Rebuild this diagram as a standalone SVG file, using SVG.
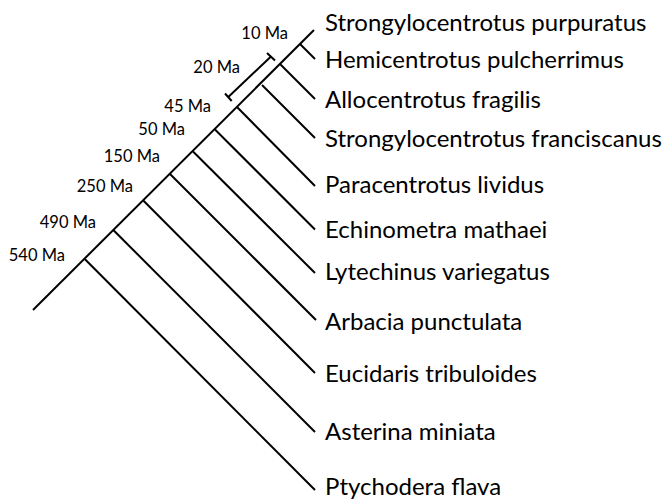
<svg xmlns="http://www.w3.org/2000/svg" width="664" height="501" viewBox="0 0 664 501">
<style>
.ln{stroke:#000;stroke-width:2;fill:none;stroke-linecap:butt}
.sp{font-family:Lato,"Open Sans","Liberation Sans",sans-serif;font-size:24px;fill:#000}
.ma{font-family:Lato,"Open Sans","Liberation Sans",sans-serif;font-size:16.5px;fill:#000;text-anchor:end}
</style>
<rect width="664" height="501" fill="#fff"/>
<g id="connectors">
<line class="ln" x1="33" y1="310" x2="314" y2="30"/>
<line class="ln" x1="300" y1="44" x2="315" y2="59"/>
<line class="ln" x1="280" y1="64" x2="315" y2="99"/>
<line class="ln" x1="262" y1="85" x2="315" y2="138"/>
<line class="ln" x1="237" y1="107" x2="315" y2="186"/>
<line class="ln" x1="215" y1="129.5" x2="315" y2="229.5"/>
<line class="ln" x1="193" y1="151.5" x2="315" y2="273"/>
<line class="ln" x1="170" y1="174" x2="316" y2="320"/>
<line class="ln" x1="143.3" y1="200.5" x2="315" y2="373"/>
<line class="ln" x1="113.3" y1="230" x2="315" y2="432"/>
<line class="ln" x1="85" y1="259.3" x2="315" y2="490"/>
</g>
<g id="scalebar">
<line class="ln" x1="228.3" y1="97" x2="271" y2="56.5"/>
<line class="ln" x1="225" y1="93.5" x2="231.7" y2="101"/>
<line class="ln" x1="267" y1="53" x2="275" y2="60.5"/>
</g>
<g id="ages">
<text class="ma" x="288" y="39">10 Ma</text>
<text class="ma" x="240" y="72.7">20 Ma</text>
<text class="ma" x="211" y="111.7">45 Ma</text>
<text class="ma" x="185" y="135">50 Ma</text>
<text class="ma" x="160" y="161.7">150 Ma</text>
<text class="ma" x="133" y="191.7">250 Ma</text>
<text class="ma" x="96" y="228.3">490 Ma</text>
<text class="ma" x="65" y="260.7">540 Ma</text>
</g>
<g id="taxa">
<text class="sp" id="t1" x="325" y="31">Strongylocentrotus purpuratus</text>
<text class="sp" id="t2" x="325" y="68">Hemicentrotus pulcherrimus</text>
<text class="sp" id="t3" x="325" y="108">Allocentrotus fragilis</text>
<text class="sp" id="t4" x="325" y="147">Strongylocentrotus franciscanus</text>
<text class="sp" id="t5" x="325" y="193">Paracentrotus lividus</text>
<text class="sp" id="t6" x="325" y="238">Echinometra mathaei</text>
<text class="sp" id="t7" x="325" y="280">Lytechinus variegatus</text>
<text class="sp" id="t8" x="325" y="330">Arbacia punctulata</text>
<text class="sp" id="t9" x="325" y="382">Eucidaris tribuloides</text>
<text class="sp" id="t10" x="325" y="440">Asterina miniata</text>
<text class="sp" id="t11" x="325" y="495">Ptychodera flava</text>
</g>
</svg>
